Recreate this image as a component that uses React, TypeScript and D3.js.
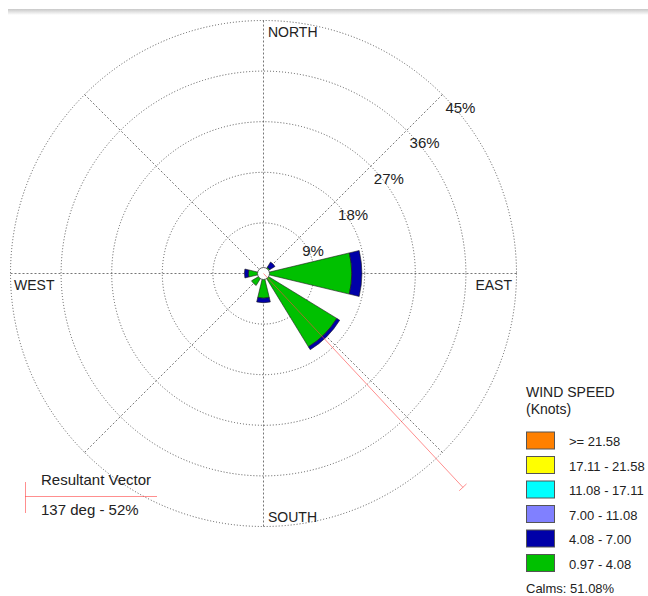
import React from "react";
import * as d3 from "d3";

const directions = ["N", "NE", "E", "SE", "S", "SW", "W", "NW"];
const bearings = [0, 45, 90, 135, 180, 225, 270, 315];
// percent frequency by speed class per direction
const green097 = [0, 1.3, 15.7, 15.3, 4.4, 2.5, 2.7, 0];
const blue408 = [0, 1.1, 1.8, 0.6, 0.8, 0, 0.7, 0];
const ringTicks = [9, 18, 27, 36, 45];
const compassLabels = ["NORTH", "EAST", "SOUTH", "WEST"];
const legendLabels = [">= 21.58", "17.11 - 21.58", "11.08 - 17.11", "7.00 - 11.08", "4.08 - 7.00", "0.97 - 4.08"];
const legendColors = ["#ff8000", "#ffff00", "#00ffff", "#8080ff", "#0000a8", "#00c000"];
const calmsText = "Calms: 51.08%";
const resultantDeg = 137;
const resultantPct = 52;

export default function App() {
  const cx = 263.5;
  const cy = 273.5;
  const r = d3.scaleLinear().domain([0, 45]).range([0, 253]);
  const halfW = (13.5 * Math.PI) / 180;
  const arc = d3.arc<any>();
  const font = "Arial, 'Liberation Sans', sans-serif";
  const txt = "#222";

  const series = [
    { vals: green097, color: "#00c000", base: null as number[] | null },
    { vals: blue408, color: "#0000a8", base: green097 },
  ];

  const pt = (deg: number, rad: number) => {
    const a = (deg * Math.PI) / 180;
    return [cx + rad * Math.sin(a), cy - rad * Math.cos(a)];
  };

  const vEnd = pt(resultantDeg, r(resultantPct));
  const vA = (resultantDeg * Math.PI) / 180;
  const px = Math.cos(vA), py = Math.sin(vA);

  return (
    <svg width={648} height={596} style={{ position: "absolute", left: 0, top: 0, background: "#fff" }} fontFamily={font}>
      <defs>
        <linearGradient id="sh" x1="0" y1="0" x2="0" y2="1">
          <stop offset="0" stopColor="#c8c8c8" />
          <stop offset="1" stopColor="#ffffff" />
        </linearGradient>
      </defs>
      <rect x={8} y={9} width={640} height={6} fill="url(#sh)" />
      {/* axes */}
      {[0, 45, 90, 135].map((d) => {
        const [x1, y1] = pt(d, r(45));
        const [x2, y2] = pt(d + 180, r(45));
        return <line key={d} x1={x1} y1={y1} x2={x2} y2={y2} stroke="#777" strokeWidth={1} strokeDasharray="2,2" />;
      })}
      {ringTicks.map((t) => (
        <circle key={t} cx={cx} cy={cy} r={r(t)} fill="none" stroke="#555" strokeWidth={1} strokeDasharray="1,2" />
      ))}
      {ringTicks.map((t) => {
        const [x, y] = pt(45, r(t));
        return (
          <text key={t} x={x + 3} y={y + 18} fontSize={15} fill={txt}>{t}%</text>
        );
      })}
      {/* bars */}
      <g transform={`translate(${cx},${cy})`}>
        {series.map((s, si) =>
          directions.map((dname, i) => {
            const v = s.vals[i];
            if (!v) return null;
            const b0 = s.base ? s.base[i] : 0;
            const a = (bearings[i] * Math.PI) / 180;
            const d = arc({ innerRadius: r(b0), outerRadius: r(b0 + v), startAngle: a - halfW, endAngle: a + halfW }) as string;
            return <path key={si + dname} d={d} fill={s.color} stroke="#1a1a1a" strokeWidth={0.6} />;
          })
        )}
      </g>
      <circle cx={cx} cy={cy} r={6} fill="#fff" stroke="#444" strokeWidth={0.8} />
      {/* resultant vector */}
      <line x1={cx} y1={cy} x2={vEnd[0]} y2={vEnd[1]} stroke="#ff4444" strokeOpacity={0.6} strokeWidth={1} />
      <line x1={vEnd[0] - px * 5} y1={vEnd[1] - py * 5} x2={vEnd[0] + px * 5} y2={vEnd[1] + py * 5} stroke="#ff4444" strokeOpacity={0.6} strokeWidth={1} />
      {/* compass labels */}
      <text x={268} y={37} fontSize={14} fill={txt}>{compassLabels[0]}</text>
      <text x={512} y={290} fontSize={14} fill={txt} textAnchor="end">{compassLabels[1]}</text>
      <text x={268} y={522} fontSize={14} fill={txt}>{compassLabels[2]}</text>
      <text x={14} y={290} fontSize={14} fill={txt}>{compassLabels[3]}</text>
      {/* resultant legend */}
      <text x={41} y={485} fontSize={15} fill={txt}>Resultant Vector</text>
      <line x1={25} y1={496.5} x2={157} y2={496.5} stroke="#ff4444" strokeOpacity={0.6} />
      <line x1={25.5} y1={482} x2={25.5} y2={513} stroke="#ff4444" strokeOpacity={0.6} />
      <text x={41} y={515} fontSize={15} fill={txt}>{`${resultantDeg} deg - ${resultantPct}%`}</text>
      {/* speed legend */}
      <text x={526} y={397} fontSize={14} fill={txt}>WIND SPEED</text>
      <text x={526} y={414} fontSize={14} fill={txt}>(Knots)</text>
      {legendLabels.map((l, i) => (
        <g key={l}>
          <rect x={526.5} y={432 + i * 24.5} width={28} height={17} fill={legendColors[i]} stroke="#555" strokeWidth={1} />
          <text x={569} y={446 + i * 24.5} fontSize={13} fill={txt}>{l}</text>
        </g>
      ))}
      <text x={526} y={593} fontSize={13} fill={txt}>{calmsText}</text>
    </svg>
  );
}
